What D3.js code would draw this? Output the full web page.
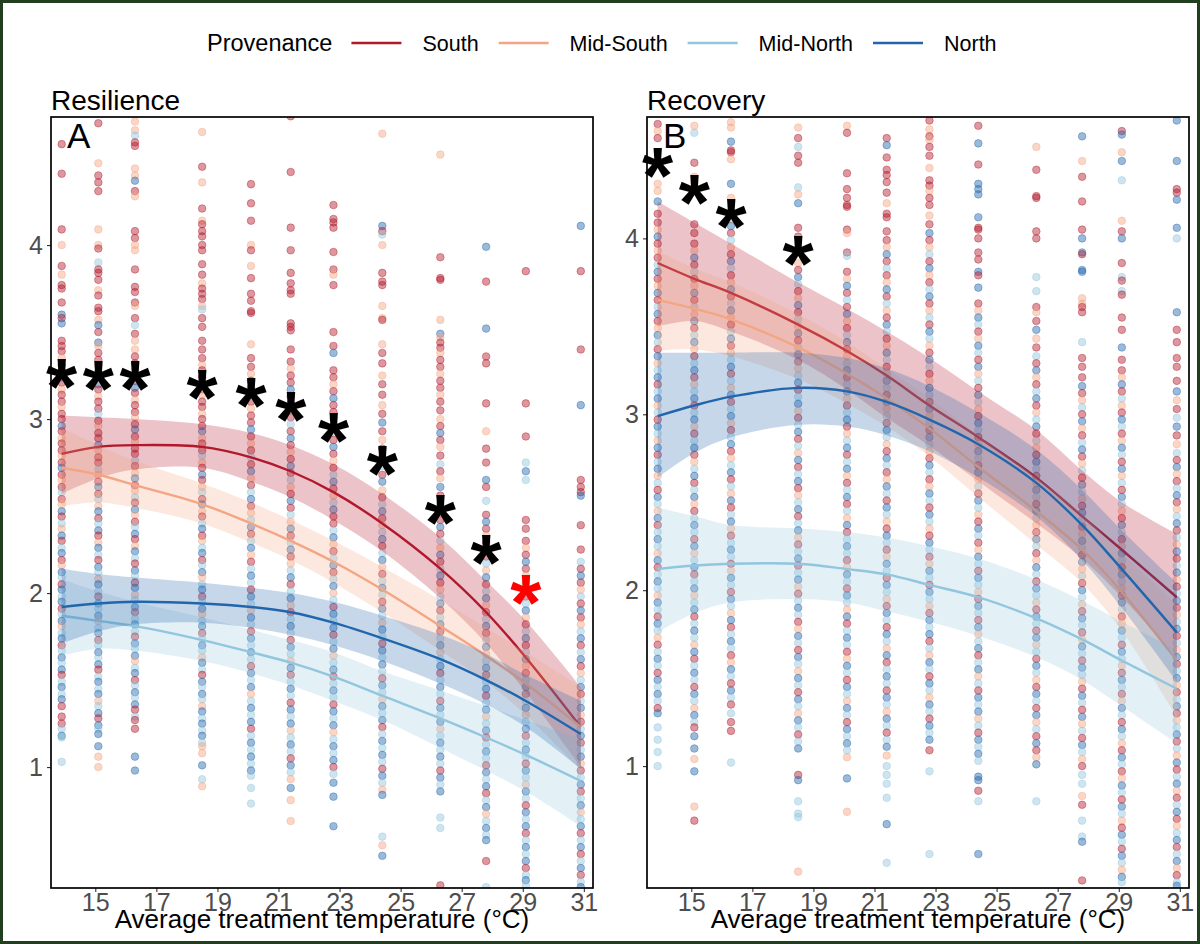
<!DOCTYPE html>
<html>
<head>
<meta charset="utf-8">
<script src="https://cdn.jsdelivr.net/npm/d3@7"></script>
<style>
  body { margin: 0; background: #fff; }
  svg { display: block; }
  text { font-family: "Liberation Sans", Arial, sans-serif; }
</style>
</head>
<body>
<svg id="chart" width="1200" height="944"></svg>
<script>
// temperatures of the 12 treatment columns (°C)
const temps = [13.9, 15.1, 16.3, 18.5, 20.1, 21.4, 22.8, 24.4, 26.3, 27.8, 29.1, 30.9];
const provenances = ["South", "Mid-South", "Mid-North", "North"];
const provColors = ["#B2182B", "#F4A582", "#92C5DE", "#2166AC"];
const provCodes = { s: 0, m: 1, q: 2, n: 3 };
const xTicks = [15, 17, 19, 21, 23, 25, 27, 29, 31];
const yTicks = [1, 2, 3, 4];

// fitted curves at each column, order South, Mid-South, Mid-North, North
const resFit = [
  [2.80, 2.84, 2.85, 2.84, 2.78, 2.70, 2.58, 2.40, 2.14, 1.89, 1.63, 1.23],
  [2.72, 2.68, 2.62, 2.51, 2.40, 2.30, 2.18, 2.02, 1.81, 1.64, 1.48, 1.23],
  [1.87, 1.84, 1.81, 1.73, 1.66, 1.60, 1.52, 1.41, 1.28, 1.17, 1.07, 0.92],
  [1.92, 1.94, 1.95, 1.94, 1.92, 1.89, 1.83, 1.74, 1.62, 1.50, 1.38, 1.19]
];
const resLo = [
  [2.57, 2.66, 2.71, 2.72, 2.64, 2.55, 2.42, 2.24, 1.97, 1.71, 1.43, 1.00],
  [2.50, 2.52, 2.49, 2.40, 2.29, 2.19, 2.06, 1.89, 1.67, 1.49, 1.30, 0.98],
  [1.64, 1.68, 1.67, 1.61, 1.54, 1.47, 1.38, 1.27, 1.11, 0.98, 0.86, 0.66],
  [1.71, 1.78, 1.82, 1.83, 1.80, 1.76, 1.70, 1.61, 1.48, 1.36, 1.23, 0.99]
];
const resHi = [
  [3.02, 3.01, 3.00, 2.97, 2.92, 2.85, 2.74, 2.57, 2.32, 2.07, 1.84, 1.46],
  [2.95, 2.85, 2.76, 2.63, 2.52, 2.42, 2.30, 2.15, 1.96, 1.80, 1.66, 1.46],
  [2.08, 2.01, 1.95, 1.86, 1.79, 1.73, 1.66, 1.55, 1.44, 1.35, 1.27, 1.16],
  [2.14, 2.11, 2.09, 2.06, 2.03, 2.00, 1.95, 1.87, 1.76, 1.65, 1.53, 1.38]
];
const recFit = [
  [3.86, 3.77, 3.69, 3.51, 3.36, 3.22, 3.05, 2.87, 2.64, 2.42, 2.23, 1.96],
  [3.65, 3.60, 3.54, 3.38, 3.23, 3.09, 2.92, 2.70, 2.45, 2.23, 1.99, 1.60],
  [2.12, 2.14, 2.15, 2.15, 2.12, 2.09, 2.03, 1.96, 1.84, 1.72, 1.60, 1.44],
  [2.99, 3.05, 3.10, 3.15, 3.13, 3.07, 2.97, 2.83, 2.61, 2.37, 2.12, 1.76]
];
const recLo = [
  [3.50, 3.53, 3.47, 3.31, 3.14, 2.98, 2.82, 2.62, 2.38, 2.18, 1.96, 1.62],
  [3.36, 3.37, 3.33, 3.20, 3.06, 2.93, 2.76, 2.53, 2.26, 2.04, 1.77, 1.28],
  [1.76, 1.87, 1.93, 1.95, 1.93, 1.88, 1.82, 1.74, 1.62, 1.49, 1.34, 1.13],
  [2.64, 2.78, 2.87, 2.94, 2.93, 2.88, 2.79, 2.64, 2.42, 2.17, 1.90, 1.48]
];
const recHi = [
  [4.21, 4.09, 3.97, 3.75, 3.60, 3.47, 3.32, 3.13, 2.91, 2.68, 2.50, 2.32],
  [3.93, 3.83, 3.75, 3.57, 3.41, 3.26, 3.09, 2.88, 2.64, 2.43, 2.21, 1.92],
  [2.47, 2.42, 2.37, 2.35, 2.33, 2.30, 2.25, 2.18, 2.06, 1.94, 1.82, 1.66],
  [3.35, 3.35, 3.35, 3.35, 3.32, 3.26, 3.16, 3.01, 2.80, 2.57, 2.34, 2.04]
];

// significance stars
const resStarTemps = [13.9, 15.1, 16.3, 18.5, 20.1, 21.4, 22.8, 24.4, 26.3, 27.8, 29.1];
const resStarVals = [3.24, 3.23, 3.23, 3.18, 3.13, 3.05, 2.93, 2.74, 2.46, 2.23, 2.00];
const resStarColors = ["#000", "#000", "#000", "#000", "#000", "#000", "#000", "#000", "#000", "#000", "#ff0000"];
const recStarTemps = [13.9, 15.1, 16.3, 18.5];
const recStarVals = [4.41, 4.26, 4.12, 3.91];
const recStarColors = ["#000", "#000", "#000", "#000"];

// observations per column: value x100 + provenance code (s South, m Mid-South, q Mid-North, n North)
const resPoints = [
  "458s 441s 409s 400m 388s 383m 377s 375s 367s 360n 358s 355n 345s 342s 339s 335m 331s 328s 324n 321s 317m 314s 310s 307m 303s 300s 296n 293s 289m 286s 282s 279m 275s 272n 268s 265m 261s 258q 254s 251m 247n 244s 240q 237m 233n 230s 226q 223n 219s 216m 212n 209q 205s 202n 198q 195n 191s 188q 184n 181m 177q 174n 170s 167q 163n 160q 156n 153s 149q 146n 142q 139n 135s 129s 125s 122q 118n 117q 103q",
  "470s 447m 440s 436s 431s 409m 400m 398s 390q 386s 384s 380s 374m 371s 364s 362s 357m 354n 350s 344n 342m 338s 334s 331m 327s 324s 320n 317s 313m 310s 306s 303q 299s 296m 292s 289s 285n 282m 278s 275s 271q 268m 264s 261n 257s 254q 250m 247n 243s 240q 236n 233s 229m 226n 222q 219s 215n 212q 208m 205n 201q 198s 194n 191q 187n 184m 180q 177n 173s 170q 166n 163q 159n 156s 152q 149n 145q 142n 138m 135q 131n 128s 124n 122q 119n 112n 106m 100m",
  "471m 466m 463q 459s 457s 444m 440m 437n 431s 428m 408s 404s 400m 397m 386s 376s 373s 367s 365m 358s 354q 349s 345m 340m 336s 332s 329m 325s 322s 318n 315s 311m 308s 304s 301m 297s 294n 290s 287m 283s 280s 276q 273s 269m 266n 262s 259m 255q 252s 248n 245m 241s 238q 234n 231s 227m 224n 220q 217s 213n 210q 206s 203n 199m 196q 192n 189s 185q 182n 178q 175s 171n 168q 164n 161m 157q 154n 150s 147q 143n 140q 136n 133s 129q 127s 122s 106n 98n",
  "465m 445s 436m 421s 414m 412s 408s 405s 400s 397s 389s 383s 378m 375s 372s 369s 365m 363q 358s 353s 345s 340s 335s 331m 328s 324s 321n 317s 314m 310s 307s 303m 300s 296s 293n 289m 286s 282s 279q 275m 272s 268n 265s 261m 258q 254s 251n 247m 244s 240q 237n 233s 230m 226q 223n 219s 216q 212n 209m 205q 202n 198s 195q 191n 188m 184q 181n 177s 174q 170n 167q 163m 160n 156q 153s 149n 146q 142n 139q 135m 132n 128q 125n 121q 118n 114q 112m 108m 101n 93q 89m",
  "435s 424s 414s 400m 397s 388m 381s 372s 368s 362s 361s 343m 335s 330s 326m 322s 318s 314n 310s 306m 302s 298s 294n 290s 286m 282s 278q 274s 270n 266m 262s 258q 254n 250s 246m 242q 238n 234s 230q 226n 222m 218s 214q 210n 206q 202s 198n 194q 190m 186n 182q 178s 174n 170q 166n 162q 158s 154n 150q 146n 142m 138q 134n 130q 126n 122s 118q 114n 110q 106n 102q 98n 95q 88q 79q",
  "474s 442s 410s 397s 384s 378s 374s 372s 355s 353s 351s 340s 333s 329m 325s 321s 317n 313s 309s 305m 301s 297q 293s 289n 285s 281m 277s 273n 269s 265q 261m 257s 253n 249s 245q 241m 237n 233s 229q 225n 221s 217m 213q 209n 205s 201q 197n 193m 189s 185q 181n 177q 173s 169n 165q 161m 157n 153s 149q 145n 141q 137s 133n 129q 125n 121m 117q 113n 109q 105s 101n 97q 93m 88n 81m 69m",
  "423s 415s 413s 410s 396s 386s 383m 377s 350s 342s 338n 328s 324s 320m 316s 312n 308s 304s 300m 296s 292q 288s 284n 280s 276m 272s 268q 264n 260s 256m 252q 248n 244s 240s 236q 232n 228m 224s 220q 216n 212s 208q 204n 200m 196q 192s 188n 184q 180n 176s 172q 168n 164m 160q 156n 152s 148q 144n 140q 136s 132n 128q 124n 120m 116q 112n 108q 104n 100s 96q 91n 83n 66n",
  "464m 411n 408s 406q 400m 384s 379s 377s 365m 358m 357s 343m 338s 332s 325m 320s 314s 308m 303s 298n 293s 288m 283s 278s 273q 268s 264n 259m 255s 251q 247n 243s 239m 235q 231n 227s 223q 219n 215m 211s 207q 203n 199q 195s 191n 187q 183m 179n 175q 171s 167n 163q 159n 155q 151s 147n 143q 139m 135n 131q 127n 123s 119q 115n 111q 107n 103q 99s 95n 91q 87m 84n 60q 55m 49n",
  "452m 393s 381s 380s 357m 349n 347m 344s 341s 338m 334s 330s 326m 322s 318s 314m 310s 305s 300m 296s 292n 288s 284m 279s 274q 270s 266m 261n 256s 251q 246m 242s 238n 234s 230q 226m 222n 218s 214q 210n 206s 202m 198q 194n 190s 186q 182n 178s 174q 170n 166m 162q 158n 154s 150q 146n 142q 138s 134n 130q 126n 122m 118q 114n 110q 106n 102q 98s 94n 90q 86n 71q 65q 32s",
  "399n 379s 352n 336s 332s 309s 293m 283s 275s 265n 261s 253q 245s 241n 237s 233m 229s 225n 221s 217q 213m 209n 205s 201q 197n 193m 189s 185q 181n 177s 173q 169n 165m 161q 157n 153s 149q 145n 141s 137q 133n 129m 125q 121n 117s 113q 109n 105q 101s 97n 93q 89n 85s 81q 77n 73m 69q 65n 61q 58n 46s 31q",
  "385s 309s 290s 275q 270n 265q 242s 237s 230s 226m 222s 218n 214s 210m 206q 202n 198s 194q 190n 186m 182s 178q 174n 170s 166q 162n 158m 154s 150q 146n 142s 138q 134n 130m 126q 122n 118s 114q 110n 106q 102s 98n 94q 90m 86n 82q 78s 74n 70q 66n 62s 58q 54n 50q 46n 42s 38q 35n 32q",
  "411n 385s 340s 308n 265s 261s 258s 256n 239s 225s 218q 214s 210n 206s 202m 198q 194s 190n 186s 182m 178q 174n 170s 166q 162n 158s 154m 150q 146n 142s 138q 134n 130m 126s 122q 118n 114s 110q 106n 102m 98s 94q 90n 86s 82q 78n 74m 70q 66n 62s 58q 54n 50s 46q 42n 38s 34q 31n"
];
const recPoints = [
  "465s 461m 457s 431m 427m 421n 414s 409s 405m 401n 397s 393m 389s 385q 381n 377s 373m 369n 365s 361q 357n 353s 349m 345n 341q 337s 333n 329m 325q 321n 317s 313q 309n 305m 301q 297s 293n 289q 285m 281n 277s 273q 269n 265m 261q 257s 253n 249q 245m 241n 237s 233q 229n 225q 221m 217n 213s 209q 205n 201q 197m 193n 189q 185s 181n 177q 173m 169s 165q 161n 157q 153s 149n 145q 141n 137q 133s 130n 122q 115q 108q 100q",
  "464m 460q 443s 435m 432m 408s 403s 397s 393m 389n 385s 381q 377s 373m 369n 365s 361q 357m 353n 349s 345q 341n 337m 333s 329q 325n 321s 317m 313q 309n 305s 301q 297n 293m 289s 285q 281n 277s 273m 269q 265n 261s 257q 253n 249m 245s 241q 237n 233q 229s 225n 221m 217q 213n 209s 205q 201n 197m 193q 189n 185s 181q 177n 173q 169m 165n 161s 157q 153n 149q 145s 141n 137q 133m 129n 125q 122s 117n 110n 104m 97n 77m 69s",
  "466m 463m 455n 450s 449s 445m 431n 423m 415s 411m 407n 403s 399q 395m 391s 387n 383q 379s 375m 371n 367s 363q 359n 355m 351s 347q 343n 339s 335m 331q 327n 323s 319q 315m 311n 307s 303q 299n 295m 291s 287q 283n 279s 275m 271q 267n 263s 259q 255m 251n 247s 243q 239n 235m 231s 227q 223n 219q 215s 211m 207n 203q 199s 195n 191q 187m 183n 179s 175q 171n 167q 163s 159m 155n 151q 147s 143n 139q 135s 130q 125s 120s 102q",
  "463m 457s 452q 447s 443s 429q 425m 420n 406s 401s 386m 382s 378n 374q 370s 366m 362n 358s 354q 350m 346n 342s 338q 334n 330s 326m 322q 318n 314s 310q 306n 302m 298s 294q 290n 286s 282q 278m 274n 270s 266q 262n 258s 254m 250q 246n 242s 238q 234n 230m 226s 222q 218n 214s 210q 206n 202m 198s 194q 190n 186q 182s 178m 174n 170q 166s 162n 158q 154m 150n 146q 142s 138n 134q 130m 126n 122q 118s 114q 110n 95s 92n 80q 73q 71q 40m",
  "464m 460s 437s 428s 423s 419s 418s 405s 403m 392s 390q 381s 377m 373n 369s 365q 361s 357n 353m 349s 345q 341n 337s 333m 329q 325n 321s 317q 313n 309m 305s 301q 297n 293s 289m 285q 281n 277s 273q 269n 265m 261s 257q 253n 249s 245q 241m 237n 233s 229q 225n 221q 217s 213m 209n 205q 201s 197n 193q 189m 185n 181s 177q 173n 169q 165s 161m 157n 153q 149s 145n 141q 137m 133n 129q 125s 121n 117q 113n 109q 105m 93n 74m",
  "457s 453n 446s 439s 436s 432s 426s 420m 414s 412s 404s 399s 395m 391n 387s 383q 379s 375m 371n 367s 363q 359m 355s 351n 347q 343s 339m 335n 331q 327s 323m 319n 315q 311s 307n 303m 299q 295s 291n 287q 283m 279s 275n 271q 267s 263m 259n 255q 251s 247n 243q 239m 235s 231n 227q 223s 219m 215n 211q 207s 203n 199q 195m 191s 187n 183q 179s 175n 171q 167m 163n 159s 155q 151n 147q 143s 139n 135q 131m 127n 123q 119s 115q 111n 106m 100q 95q 90q 82q 67n 45q",
  "467s 462m 458s 456m 452s 447s 440m 433s 430s 427m 423s 419s 413m 408s 403n 399s 395m 391q 387s 383n 379m 375s 371q 367n 363s 359m 355q 351s 347n 343q 339m 335s 331n 327q 323s 319m 315n 311q 307s 303n 299m 295q 291s 287n 283q 279m 275s 271n 267q 263s 259m 255n 251q 247s 243n 239q 235m 231s 227n 223q 219s 215m 211n 207q 203s 199n 195q 191m 187s 183n 179q 175n 171s 167q 163m 159n 155q 151s 147n 143q 139m 135n 131q 127s 123n 119q 115n 109s 97q 50q",
  "464s 454n 442s 431n 428n 425n 412n 406s 405s 400s 392s 388s 381n 379s 372n 363s 359m 355n 351q 347s 343m 339n 335q 331s 327n 323m 319q 315s 311n 307q 303m 299s 295n 291q 287s 283m 279n 275q 271s 267n 263m 259q 255s 251n 247q 243m 239s 235n 231q 227s 223m 219n 215q 211s 207n 203q 199m 195s 191n 187q 183s 179n 175m 171q 167n 163s 159q 155n 151m 147q 143s 139n 135q 131n 127m 123q 119s 115n 111q 107n 103q 94n 92n 86s 80q 50n",
  "452m 439s 424s 423s 404s 400s 378q 370q 361s 358m 353s 348n 343m 338s 333q 329s 325n 321m 317s 313q 309n 305s 301m 297q 293n 289s 285q 281m 277s 273n 269q 265s 261m 257n 253q 249s 245n 241q 237m 233s 229n 225q 221s 217m 213n 209q 205s 201n 197q 193m 189s 185n 181q 177s 173n 169m 165q 161s 157n 153q 149m 145s 141n 137q 133s 129n 125m 121q 117s 113n 109s 105m 101n 80q",
  "458n 444m 435s 421s 405s 400n 392n 391s 382n 381n 366m 363m 361s 358s 341q 332s 327s 321s 316n 312s 308m 304q 300s 296n 292m 288s 284q 280n 276s 272m 268q 264s 260n 256q 252m 248s 244n 240q 236s 232m 228n 224q 220s 216n 212m 208q 204s 200n 196q 192m 188s 184n 180q 176s 172m 168n 164q 160s 156n 152q 148m 144s 140n 136q 132s 128n 124m 120q 116s 112n 108q 104m 100s 95q 90q 83m 78s 69q 60q 57n 35s",
  "461s 459n 449m 444n 433q 410m 404s 400n 386s 378q 376s 370q 368s 355s 348s 338n 331s 325s 321m 317n 313s 309q 305m 301s 297n 293q 289s 285m 281n 277q 273s 269n 265m 261q 257s 253n 249q 245m 241s 237n 233q 229s 225m 221n 217q 213s 209n 205q 201m 197s 193n 189q 185s 181m 177n 173q 169s 165n 161q 157m 153s 149n 145q 141s 137m 133n 129q 125s 121n 117q 113m 109s 105n 101q 97s 93m 89n 85q 81s 77n 73q 69m 65s 61n 57q 53s 49n 45q 41m 37n 34q",
  "467n 444n 428s 426s 422n 406n 400q 358n 348s 341s 332s 327s 319s 313n 308m 303s 298q 293n 288s 283m 278q 274s 270n 266m 262s 258q 254n 250s 246m 242q 238n 234s 230q 226m 222n 218s 214q 210n 206m 202s 198q 194n 190s 186m 182q 178n 174s 170q 166m 162n 158s 154q 150n 146m 142s 138q 134n 130s 126m 122q 118n 114s 110q 106m 102n 98s 94q 90n 86m 82s 78q 74n 70s 66m 62q 58n 54s 50q 46n 42m 38s 34q 32n"
];

const svg = d3.select("#chart");
svg.append("rect").attr("width", 1200).attr("height", 944).attr("fill", "#fff");

function parsePoints(cols) {
  return cols.flatMap((s, i) => s.trim().split(/\s+/).map(tok => ({
    t: temps[i],
    v: +tok.slice(0, -1) / 100,
    p: provCodes[tok.slice(-1)]
  })));
}

function drawPanel(cfg) {
  const x = d3.scaleLinear().domain([13.55, 31.3]).range([cfg.x0, cfg.x1]);
  const y = d3.scaleLinear().domain(cfg.yDomain).range([cfg.y1, cfg.y0]);
  const g = svg.append("g");

  g.append("clipPath").attr("id", cfg.id + "-clip")
    .append("rect").attr("x", cfg.x0).attr("y", cfg.y0)
    .attr("width", cfg.x1 - cfg.x0).attr("height", cfg.y1 - cfg.y0);

  const plot = g.append("g").attr("clip-path", `url(#${cfg.id}-clip)`);

  plot.append("g").selectAll("circle")
    .data(parsePoints(cfg.points))
    .join("circle")
    .attr("cx", d => x(d.t))
    .attr("cy", d => y(d.v))
    .attr("r", 3.8)
    .attr("fill", d => provColors[d.p])
    .attr("fill-opacity", 0.45)
    .attr("stroke", d => provColors[d.p])
    .attr("stroke-opacity", 0.4)
    .attr("stroke-width", 1);

  const area = d3.area()
    .x((d, i) => x(temps[i]))
    .y0(d => y(d[0]))
    .y1(d => y(d[1]))
    .curve(d3.curveCatmullRom);
  const line = d3.line()
    .x((d, i) => x(temps[i]))
    .y(d => y(d))
    .curve(d3.curveCatmullRom);

  provenances.forEach((p, k) => {
    const band = cfg.lo[k].map((lo, i) => [lo, cfg.hi[k][i]]);
    plot.append("path").attr("d", area(band))
      .attr("fill", provColors[k]).attr("fill-opacity", 0.26);
    plot.append("path").attr("d", line(cfg.fit[k]))
      .attr("fill", "none").attr("stroke", provColors[k]).attr("stroke-width", 2.4);
  });

  // axes
  const xAxis = g.append("g").attr("transform", `translate(0,${cfg.y1})`)
    .call(d3.axisBottom(x).tickValues(xTicks).tickSize(4).tickPadding(1.5).tickFormat(d3.format("d")));
  const yAxis = g.append("g").attr("transform", `translate(${cfg.x0},0)`)
    .call(d3.axisLeft(y).tickValues(yTicks).tickSize(4).tickPadding(4).tickFormat(d3.format("d")));
  [xAxis, yAxis].forEach(a => {
    a.attr("font-size", null).attr("font-family", null);
    a.select(".domain").remove();
    a.selectAll(".tick line").attr("stroke", "#333").attr("stroke-width", 1.1);
    a.selectAll(".tick text").attr("fill", "#4d4d4d").style("font-size", "25px");
  });

  g.append("rect").attr("x", cfg.x0).attr("y", cfg.y0)
    .attr("width", cfg.x1 - cfg.x0).attr("height", cfg.y1 - cfg.y0)
    .attr("fill", "none").attr("stroke", "#000").attr("stroke-width", 1.7);

  g.append("text").attr("x", cfg.x0).attr("y", 110)
    .style("font-size", "28px").attr("fill", "#000").text(cfg.title);
  g.append("text").attr("x", cfg.x0 + 16).attr("y", 148)
    .style("font-size", "35px").attr("fill", "#000").text(cfg.letter);
  g.append("text").attr("x", (cfg.x0 + cfg.x1) / 2).attr("y", 928)
    .attr("text-anchor", "middle").style("font-size", "26px").attr("fill", "#000")
    .text("Average treatment temperature (°C)");

  // significance stars
  g.append("g").selectAll("text")
    .data(cfg.starTemps.map((t, i) => ({ t, v: cfg.starVals[i], c: cfg.starColors[i] })))
    .join("text")
    .attr("x", d => x(d.t))
    .attr("y", d => y(d.v) + 37)
    .attr("text-anchor", "middle")
    .style("font-size", "80px").style("font-weight", "bold")
    .attr("fill", d => d.c)
    .text("*");
}

drawPanel({
  id: "res", x0: 51, x1: 593, y0: 117, y1: 888, yDomain: [0.305, 4.736],
  title: "Resilience", letter: "A", points: resPoints,
  fit: resFit, lo: resLo, hi: resHi,
  starTemps: resStarTemps, starVals: resStarVals, starColors: resStarColors
});
drawPanel({
  id: "rec", x0: 647, x1: 1189, y0: 117, y1: 888, yDomain: [0.307, 4.69],
  title: "Recovery", letter: "B", points: recPoints,
  fit: recFit, lo: recLo, hi: recHi,
  starTemps: recStarTemps, starVals: recStarVals, starColors: recStarColors
});

// legend
const legend = svg.append("g");
const legendY = 43;
const title = legend.append("text").attr("x", 207).attr("y", legendY + 8.4)
  .style("font-size", "23.5px").attr("fill", "#000").text("Provenance");
let lx = 207 + title.node().getComputedTextLength() + 19;
provenances.forEach((p, k) => {
  legend.append("line").attr("x1", lx).attr("x2", lx + 50)
    .attr("y1", legendY).attr("y2", legendY)
    .attr("stroke", provColors[k]).attr("stroke-width", 2.6);
  const t = legend.append("text").attr("x", lx + 71).attr("y", legendY + 7.7)
    .style("font-size", "21.5px").attr("fill", "#000").text(p);
  lx = lx + 71 + t.node().getComputedTextLength() + 20;
});

// outer frame
svg.append("rect").attr("x", 1.5).attr("y", 1.5).attr("width", 1197).attr("height", 941)
  .attr("fill", "none").attr("stroke", "#213f1f").attr("stroke-width", 3);
</script>
</body>
</html>
